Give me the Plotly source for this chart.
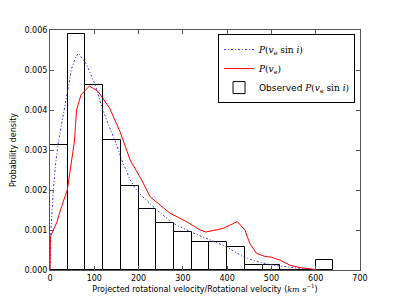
import plotly.graph_objects as go

# Histogram (bin width 40 km/s)
bin_left = [0, 40, 80, 120, 160, 200, 240, 280, 320, 360, 400, 440, 480, 520, 560, 600]
bin_height = [0.00313, 0.0059, 0.00463, 0.00324, 0.0021, 0.00152, 0.00117, 0.00094,
              0.00070, 0.00070, 0.00058, 0.000125, 0.000125, 0.0, 0.0, 0.00024]
bin_width = 40

# P(v_e sin i) - blue dash-dot
blue_v = [0, 2, 7.5, 13, 19, 26, 34, 41, 49, 57, 64, 72, 83, 102, 118, 132, 148, 162,
          181, 192, 203, 241, 278, 316, 354, 399, 436, 467, 504, 542, 570, 600]
blue_p = [0, 0.001, 0.002, 0.0027, 0.0032, 0.00363, 0.00404, 0.00446, 0.00504, 0.0053,
          0.00542, 0.0053, 0.00513, 0.00463, 0.00404, 0.00363, 0.0032, 0.00275, 0.00225,
          0.00205, 0.0019, 0.0015, 0.00117, 0.00096, 0.00079, 0.00058, 0.00033, 0.00021,
          0.00012, 0.00007, 0.00003, 0.0]

# P(v_e) - red
red_v = [0, 1, 7.5, 15, 26, 39, 55, 60, 70, 89, 109, 135, 158, 169, 181, 207, 226, 271,
         308, 339, 352, 391, 410, 423, 440, 451, 466, 485, 500, 519, 542, 564, 594, 600]
red_p = [0, 0.00083, 0.001, 0.00118, 0.00158, 0.002, 0.0032, 0.004, 0.00438, 0.0046,
         0.00446, 0.00404, 0.00346, 0.00313, 0.00275, 0.00225, 0.00183, 0.00142, 0.00121,
         0.001, 0.00095, 0.00104, 0.00113, 0.00121, 0.001, 0.00067, 0.00042, 0.00034,
         0.00032, 0.00025, 0.00012, 0.00006, 0.00002, 0.00001]

x_ticks = [0, 100, 200, 300, 400, 500, 600, 700]
y_ticks = [0.0, 0.001, 0.002, 0.003, 0.004, 0.005, 0.006]

M = "font-family:'DejaVu Serif'"
lbl_blue = f"<span style=\"{M}\"><i>P</i>(<i>v</i><sub>e</sub> sin <i>i</i>)</span>"
lbl_red = f"<span style=\"{M}\"><i>P</i>(<i>v</i><sub>e</sub>)</span>"
lbl_obs = f"Observed <span style=\"{M}\"><i>P</i>(<i>v</i><sub>e</sub> sin <i>i</i>)</span>"

centers = [b + bin_width / 2 for b in bin_left]

fig = go.Figure()
fig.add_trace(go.Bar(x=centers, y=bin_height, width=bin_width, name=lbl_obs,
                     marker=dict(color="white", line=dict(color="black", width=1)),
                     legendrank=3))
fig.add_trace(go.Scatter(x=blue_v, y=blue_p, mode="lines", name=lbl_blue,
                         line=dict(color="#3030ff", width=1, dash="2px,2px,1px,2px"),
                         legendrank=1))
fig.add_trace(go.Scatter(x=red_v, y=red_p, mode="lines", name=lbl_red,
                         line=dict(color="#ff0000", width=1), legendrank=2))

axis_common = dict(showline=True, linecolor="#555555", linewidth=1, mirror="ticks",
                   ticks="inside", ticklen=4, tickcolor="#555555", showgrid=False,
                   zeroline=False, automargin=False,
                   tickfont=dict(family="DejaVu Sans", size=8, color="black"))

# The page body adds an 8px offset; margins compensate so the plot area
# sits at x 50..360, y 30..270 in the window.
fig.update_layout(
    width=400, height=300,
    margin=dict(l=42, r=48, t=22, b=38, autoexpand=False),
    paper_bgcolor="white", plot_bgcolor="white",
    bargap=0,
    showlegend=True,
    legend=dict(x=0.984, y=0.983, xanchor="right", yanchor="top",
                bgcolor="white", bordercolor="black", borderwidth=1,
                font=dict(family="DejaVu Sans", size=9, color="black"),
                tracegroupgap=0, itemwidth=30),
    xaxis=dict(range=[0, 700], tickvals=x_ticks, ticktext=[str(t) for t in x_ticks],
               title=dict(text="Projected rotational velocity/Rotational velocity (<span style=\"font-family:'DejaVu Serif'\"><i>km s</i><sup>−1</sup></span>)",
                          font=dict(family="DejaVu Sans", size=8, color="black"), standoff=4),
               **axis_common),
    yaxis=dict(range=[0, 0.006], tickvals=y_ticks, ticktext=[f"{t:.3f}" for t in y_ticks],
               title=dict(text="Probability density",
                          font=dict(family="DejaVu Sans", size=8, color="black"), standoff=6),
               **axis_common),
)

fig.write_html("out.html")
